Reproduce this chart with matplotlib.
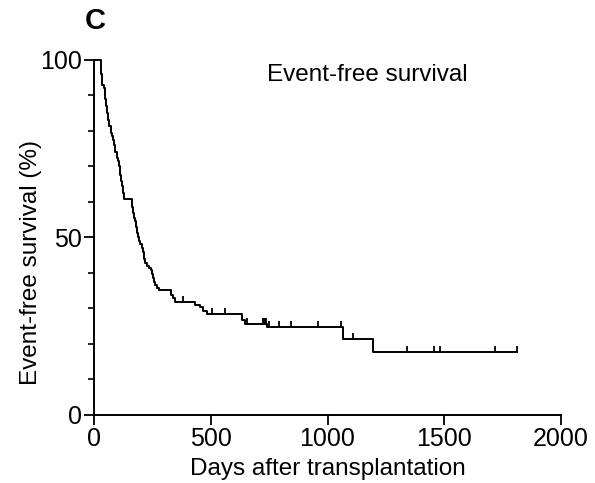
import numpy as np
import matplotlib
matplotlib.use("Agg")
import matplotlib.pyplot as plt
from matplotlib.ticker import MultipleLocator

plt.rcParams['font.family'] = ['Liberation Sans', 'DejaVu Sans']

# Kaplan-Meier step data
event_days = [0, 31, 36, 43, 48, 52, 57, 62, 66, 71, 76, 81, 87, 92, 97, 104,
              108, 112, 116, 120, 124, 128, 163, 167, 172, 176, 180, 184, 188,
              192, 198, 204, 208, 212, 215, 219, 226, 234, 243, 248, 252, 256,
              261, 270, 278, 328, 340, 348, 432, 454, 468, 482, 632, 647, 742,
              1068, 1193]
survival = [100, 96, 93, 92, 89, 87, 85, 83, 81.5, 79.5, 78.5, 77.5, 76, 74,
            72.5, 71.5, 70, 67.5, 66, 64.5, 62.5, 60.8, 58.5, 57, 55.5, 54.5,
            53, 51.3, 50, 49, 48, 47, 46, 45, 44, 42.7, 42, 41.5, 40.8, 39.8,
            38.5, 37.5, 36.6, 35.8, 35.2, 33.8, 32.9, 31.8, 31.0, 30.3, 29.4,
            28.4, 26.8, 25.6, 24.7, 21.3, 17.8]
last_day = 1810
censor_days = [382, 504, 561, 657, 725, 729, 733, 737, 750, 792, 842, 961,
               1056, 1110, 1342, 1456, 1482, 1717, 1810]

fig = plt.figure(figsize=(5.95, 4.83), dpi=100)
ax = fig.add_axes([0.158, 0.141, 0.785, 0.735])

x = event_days + [last_day]
y = survival + [survival[-1]]
ax.step(x, y, where='post', color='black', lw=1.4, clip_on=False)

# censor marks: upward ticks at the current survival level
idx = np.searchsorted(event_days, censor_days, side='right') - 1
cy = np.array(survival)[idx]
tick_marker = [(0, 0), (0, 1)]
ax.plot(censor_days, cy, ls='none', marker=tick_marker, markersize=9,
        markeredgewidth=1.3, color='black', clip_on=False)

ax.set_xlim(0, 2000)
ax.set_ylim(0, 100)
ax.set_xticks([0, 500, 1000, 1500, 2000])
ax.set_yticks([0, 50, 100])
ax.yaxis.set_minor_locator(MultipleLocator(10))

for s in ['top', 'right']:
    ax.spines[s].set_visible(False)
for s in ['left', 'bottom']:
    ax.spines[s].set_linewidth(1.4)

ax.tick_params(axis='both', which='major', length=7, width=1.3,
               labelsize=18, direction='out', pad=2)
ax.tick_params(axis='y', which='minor', length=4, width=1.2, direction='out')

ax.set_xlabel('Days after transplantation', fontsize=17.5, labelpad=5)
ax.set_ylabel('Event-free survival (%)', fontsize=17.5)
ax.yaxis.set_label_coords(-0.112, 0.43)

ax.text(1169, 95.8, 'Event-free survival', fontsize=17.5,
        ha='center', va='center')
fig.text(0.143, 0.957, 'C', fontsize=21, fontweight='bold',
         ha='left', va='center')

fig.savefig('out.png', dpi=100)
